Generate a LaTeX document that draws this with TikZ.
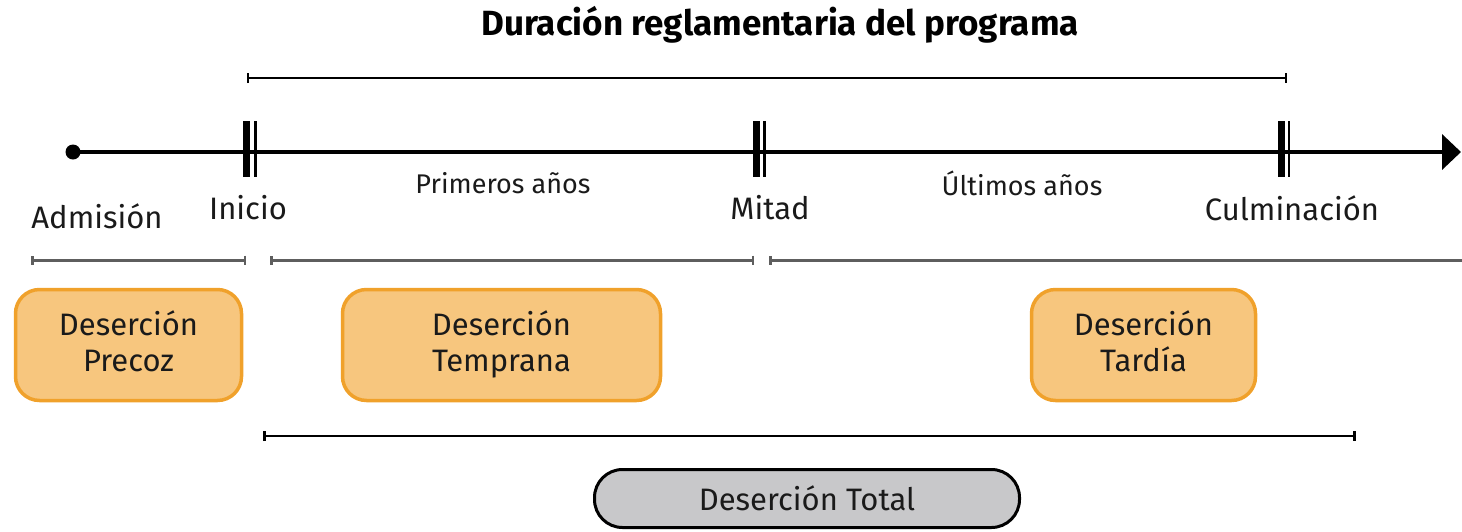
\documentclass[tikz,border=0pt]{standalone}
\usepackage{fontspec}
\setmainfont{Fira Sans}
\usetikzlibrary{arrows.meta}
\definecolor{boxfill}{HTML}{F7C67E}
\definecolor{boxedge}{HTML}{F0A12B}
\definecolor{totfill}{HTML}{C8C8CA}
\definecolor{brgray}{HTML}{5E5E5E}
\definecolor{txt}{HTML}{1A1A1A}
\begin{document}
\begin{tikzpicture}[x=1pt,y=-1pt,
  lbl/.style={font=\fontsize{31}{34}\selectfont, text=txt, inner sep=0},
  sublbl/.style={font=\fontsize{27}{30}\selectfont, text=txt, inner sep=0},
  ttl/.style={font=\fontsize{35}{38}\selectfont\bfseries, text=black, inner sep=0},
  dbox/.style={draw=boxedge, fill=boxfill, line width=3.5, rounded corners=24,
    minimum height=111, inner sep=0, align=center, text=txt,
    text height=60pt, text depth=8pt,
    font=\fontsize{31}{36}\selectfont},
  tbox/.style={draw=black, fill=totfill, line width=3, rounded corners=28,
    minimum height=58, minimum width=425, inner sep=0, text=txt,
    font=\fontsize{31}{34}\selectfont},
  topbr/.style={line width=2, {Bar[width=10,line width=2]}-{Bar[width=10,line width=2]}},
  midbr/.style={draw=brgray, line width=3, {Bar[width=9,line width=2.5]}-{Bar[width=9,line width=2.5]}},
  botbr/.style={line width=2.5, {Bar[width=10,line width=3]}-{Bar[width=10,line width=3]}},
  thick tick/.style={line width=7},
  thin tick/.style={line width=2.5}
]
\useasboundingbox (0,0) rectangle (1462,531);

% title
\node[ttl] (title) at (780,25) {Duración reglamentaria del programa};

% top bracket
\coordinate (tb1) at (247,78);
\coordinate (tb2) at (1287,78);
\draw[topbr] (tb1) -- (tb2);

% main axis
\coordinate (start) at (73,152);
\coordinate (end) at (1461,152);
\draw[line width=4, -{Triangle[length=19,width=35]}] (start) -- (end);
\fill (start) circle (7.5);

% ticks
\foreach \n/\a/\b in {ini/246/255.5, mit/756/764.5, cul/1281.5/1289} {
  \coordinate (\n t1) at (\a,121);
  \coordinate (\n b1) at (\a,177);
  \coordinate (\n t2) at (\b,121);
  \coordinate (\n b2) at (\b,177);
  \draw[thick tick] (\n t1) -- (\n b1);
  \draw[thin tick] (\n t2) -- (\n b2);
}

% labels
\node[lbl] (adm) at (97,216) {Admisión};
\node[lbl] (ini) at (248,208) {Inicio};
\node[lbl] (mit) at (770,208) {Mitad};
\node[lbl] (cul) at (1292,208) {Culminación};
\node[sublbl] (prim) at (503,183) {Primeros años};
\node[sublbl] (ult) at (1022,183) {Últimos años};

% lower brackets
\coordinate (b1a) at (31,260);
\coordinate (b1b) at (246,260);
\coordinate (b2a) at (270,260);
\coordinate (b2b) at (754,260);
\coordinate (b3a) at (769,260);
\coordinate (b3b) at (1462,260);
\draw[midbr] (b1a) -- (b1b);
\draw[midbr] (b2a) -- (b2b);
\draw[draw=brgray, line width=3, {Bar[width=9,line width=2.5]}-] (b3a) -- (b3b);

% boxes
\node[dbox, minimum width=226] (precoz) at (128.5,345) {Deserción\\Precoz};
\node[dbox, minimum width=318] (temprana) at (501.5,345) {Deserción\\Temprana};
\node[dbox, minimum width=224] (tardia) at (1143.5,345) {Deserción\\Tardía};

% bottom bracket
\coordinate (bb1) at (263,436);
\coordinate (bb2) at (1356,436);
\draw[botbr] (bb1) -- (bb2);

% total box
\node[tbox] (total) at (807,498.5) {Deserción Total};
\end{tikzpicture}
\end{document}
